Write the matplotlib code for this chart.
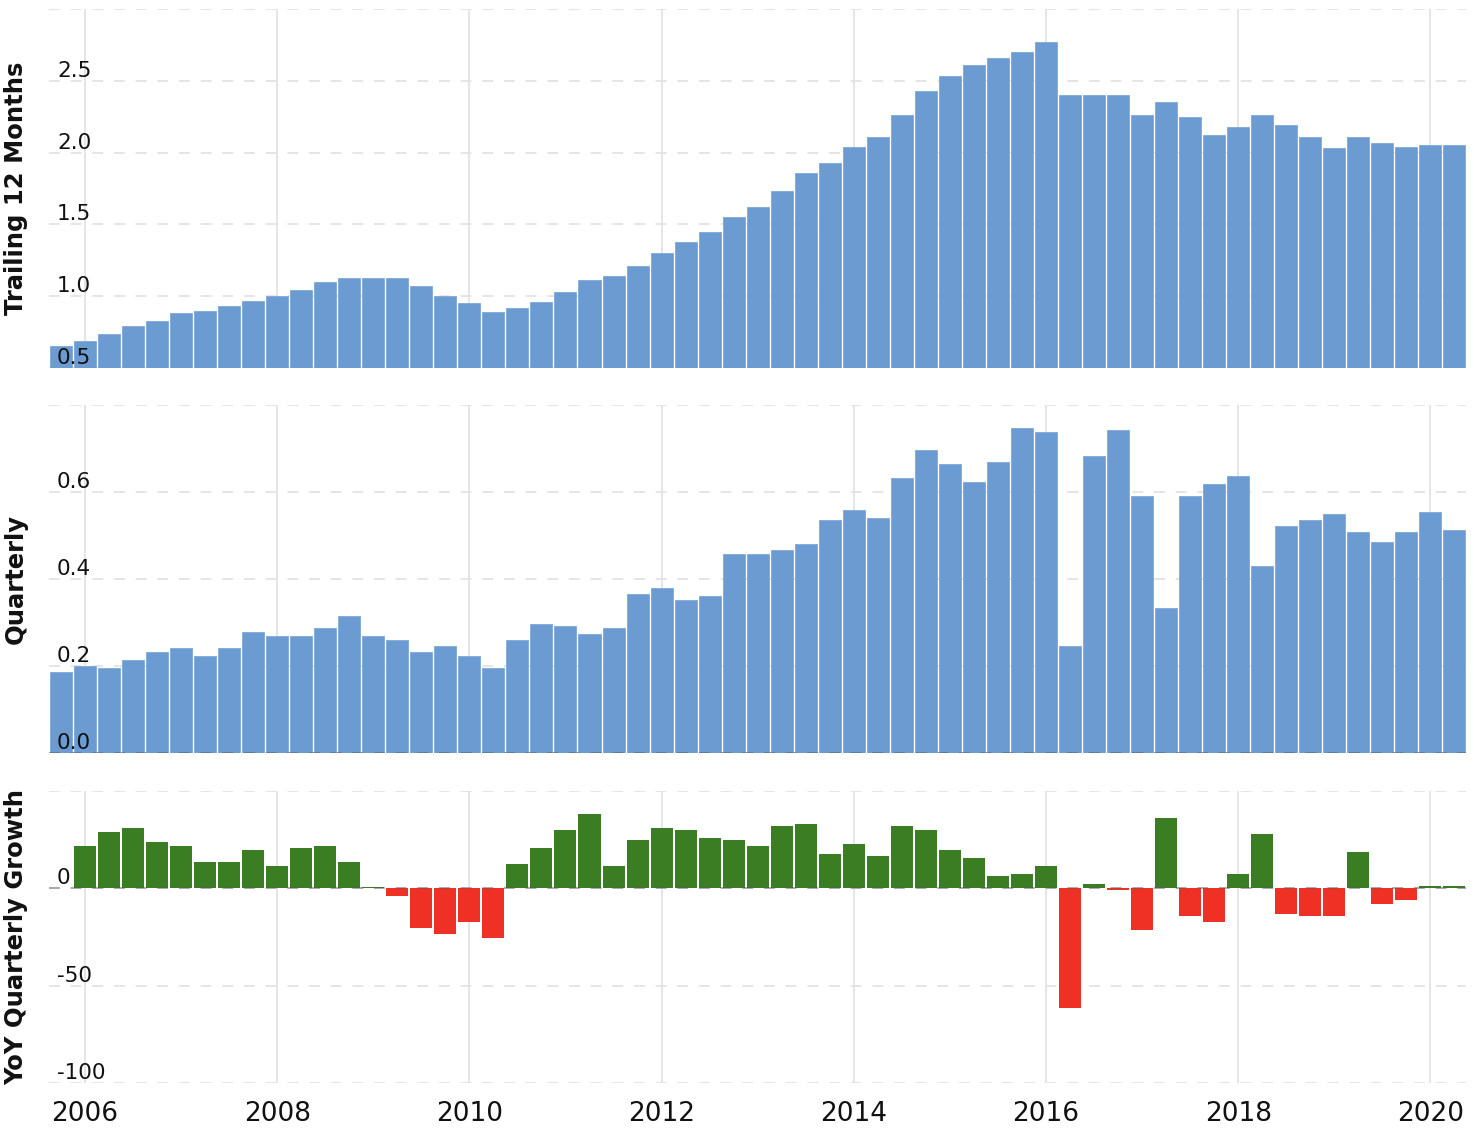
import numpy as np
import pandas as pd
import matplotlib
matplotlib.use("Agg")
import matplotlib.pyplot as plt
import matplotlib.transforms as mtransforms

# ---------------- data ----------------
quarters = pd.period_range("2005Q3", "2020Q1", freq="Q")

ttm = [0.65, 0.69, 0.74, 0.79, 0.83, 0.88, 0.90, 0.93, 0.97, 1.00,
       1.04, 1.10, 1.13, 1.13, 1.13, 1.07, 1.00, 0.95, 0.89, 0.92,
       0.96, 1.03, 1.11, 1.14, 1.21, 1.30, 1.38, 1.45, 1.55, 1.62,
       1.73, 1.86, 1.93, 2.04, 2.11, 2.26, 2.43, 2.53, 2.61, 2.66,
       2.70, 2.77, 2.40, 2.40, 2.40, 2.26, 2.35, 2.25, 2.12, 2.18,
       2.26, 2.19, 2.11, 2.03, 2.11, 2.07, 2.04, 2.05, 2.05]

quarterly = [0.186, 0.199, 0.195, 0.213, 0.231, 0.241, 0.222, 0.241, 0.277, 0.268,
             0.268, 0.287, 0.314, 0.268, 0.259, 0.231, 0.245, 0.222, 0.195, 0.259,
             0.296, 0.291, 0.273, 0.287, 0.365, 0.379, 0.351, 0.360, 0.457, 0.457,
             0.466, 0.480, 0.535, 0.558, 0.540, 0.632, 0.696, 0.664, 0.622, 0.668,
             0.747, 0.737, 0.245, 0.682, 0.742, 0.590, 0.333, 0.590, 0.618, 0.636,
             0.429, 0.521, 0.535, 0.549, 0.507, 0.484, 0.507, 0.553, 0.512]

growth = [np.nan, 21.7, 28.8, 30.9, 23.7, 21.7, 13.5, 13.5, 19.6, 11.4,
          20.6, 21.7, 13.5, 0.5, -3.9, -20.3, -23.4, -17.2, -25.4, 12.5,
          20.6, 29.9, 38.1, 11.4, 24.7, 30.9, 29.9, 25.8, 24.7, 21.7,
          31.9, 32.9, 17.6, 22.7, 16.6, 31.9, 29.9, 19.6, 15.5, 6.3,
          7.3, 11.4, -61.3, 2.2, -0.8, -21.3, 36.0, -14.2, -17.2, 7.3,
          27.8, -13.1, -14.2, -14.2, 18.6, -8.0, -6.0, 1.2, 1.2]

ttm_ticks = [0.5, 1.0, 1.5, 2.0, 2.5]
q_ticks = [0.0, 0.2, 0.4, 0.6]
g_ticks = [-100, -50, 0]
year_ticks = [2006, 2008, 2010, 2012, 2014, 2016, 2018, 2020]

# ---------------- style ----------------
BLUE = "#6b9bd1"
GREEN = "#3a7d23"
RED = "#ee3124"
GRID = "#e3e3e3"

x = np.array([q.year + q.quarter * 0.25 for q in quarters])
width = 0.25 * 22 / 24

W, H = 1474, 1130
fig = plt.figure(figsize=(W / 100, H / 100), dpi=100)

left = 49 / W
right = 1466 / W

def axes_px(top, bottom):
    return fig.add_axes([left, 1 - bottom / H, right - left, (bottom - top) / H])

ax1 = axes_px(9, 368)
ax2 = axes_px(404.7, 752.7)
ax3 = axes_px(790.7, 1083)

xlim = (2005.626, 2020.37)

def style(ax, ylim, ticks, labels, ylabel, top_grid):
    ax.set_xlim(*xlim)
    ax.set_ylim(*ylim)
    for s in ax.spines.values():
        s.set_visible(False)
    ax.set_yticks([])
    ax.set_xticks(year_ticks)
    ax.tick_params(axis="x", length=0)
    for yr in year_ticks:
        ax.axvline(yr, color=GRID, lw=1.3, zorder=0.5)
    for v in list(ticks) + [top_grid]:
        ax.axhline(v, color=GRID, lw=1.3, ls=(0, (6, 6)), zorder=0.6)
    trans = mtransforms.blended_transform_factory(ax.transAxes, ax.transData)
    off = mtransforms.ScaledTranslation(0, 4 / 100, fig.dpi_scale_trans)
    for v, lab in zip(ticks, labels):
        ax.text(8 / 1417, v, lab, transform=trans + off, ha="left", va="baseline",
                fontsize=15.5, color="#111111", zorder=5)
    bbox = ax.get_position()
    fig.text(16 / W, (bbox.y0 + bbox.y1) / 2, ylabel, rotation=90, ha="center",
             va="center", fontsize=17.5, fontweight="bold", color="#111111")

# panel 1
ax1.bar(x, np.array(ttm) - 0.5, bottom=0.5, width=width, color=BLUE,
        edgecolor="#7fa9d8", linewidth=0.6, zorder=2)
style(ax1, (0.5, 3.0), ttm_ticks, ["0.5", "1.0", "1.5", "2.0", "2.5"],
      "Trailing 12 Months", 3.0)
ax1.set_xticklabels([])

# panel 2
ax2.bar(x, quarterly, width=width, color=BLUE, edgecolor="#7fa9d8",
        linewidth=0.6, zorder=2)
style(ax2, (0.0, 0.8), q_ticks, ["0.0", "0.2", "0.4", "0.6"], "Quarterly", 0.8)
ax2.axhline(0, color="#555555", alpha=0.5, lw=1.3, ls=(0, (6, 6)), zorder=3)
ax2.set_xticklabels([])

# panel 3
g = np.array(growth)
colors = [GREEN if (not np.isnan(v) and v >= 0) else RED for v in g]
ax3.bar(x, np.nan_to_num(g), width=width, color=colors, linewidth=0, zorder=2)
style(ax3, (-100, 50), g_ticks, ["-100", "-50", "0"], "YoY Quarterly Growth", 50)
ax3.axhline(0, color="#555555", alpha=0.45, lw=1.3, ls=(0, (6, 6)), zorder=3)
ax3.set_xticklabels([str(y) for y in year_ticks], fontsize=19, color="#111111")
ax3.tick_params(axis="x", pad=13)

fig.savefig("out.png", dpi=100, facecolor="white")
